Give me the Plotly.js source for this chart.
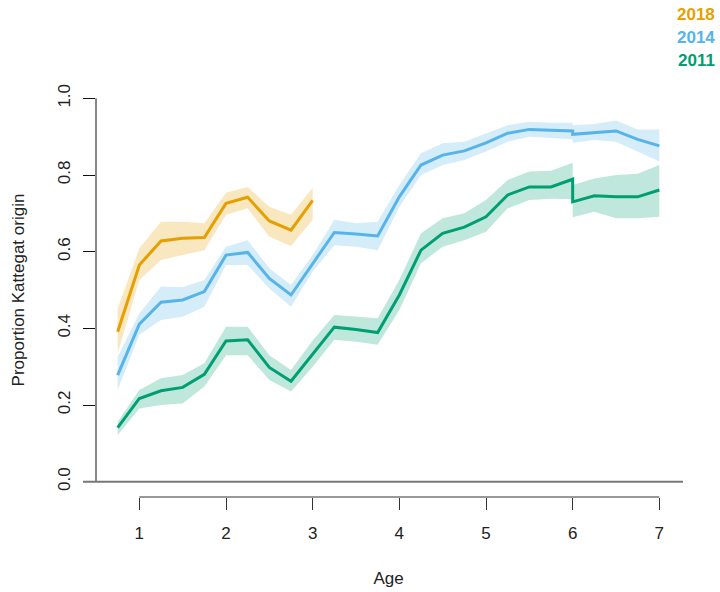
<!DOCTYPE html>
<html>
<head>
<meta charset="utf-8">
<script src="https://cdn.plot.ly/plotly-3.0.1.min.js"></script>
<style>html,body{margin:0;padding:0;background:#fff;}</style>
</head>
<body>
<div id="chart" style="width:720px;height:592px;"></div>
<script>
// ---- data ----
const ages2018 = [0.75,1,1.25,1.5,1.75,2,2.25,2.5,2.75,3];
const mean2018 = [0.391,0.565,0.628,0.635,0.637,0.726,0.742,0.680,0.656,0.734];
const lower2018 = [0.335,0.526,0.578,0.591,0.604,0.696,0.713,0.639,0.615,0.683];
const upper2018 = [0.452,0.609,0.678,0.678,0.674,0.754,0.769,0.717,0.696,0.767];

const agesFull = [0.75,1,1.25,1.5,1.75,2,2.25,2.5,2.75,3,3.25,3.5,3.75,4,4.25,4.5,4.75,5,5.25,5.5,5.75,6,6,6.25,6.5,6.75,7];

const mean2014 = [0.278,0.411,0.468,0.474,0.496,0.591,0.598,0.530,0.487,0.570,0.650,0.646,0.641,0.743,0.826,0.852,0.863,0.884,0.909,0.919,0.917,0.915,0.906,0.911,0.915,0.893,0.876];
const lower2014 = [0.239,0.383,0.422,0.430,0.456,0.565,0.565,0.504,0.456,0.548,0.617,0.613,0.604,0.717,0.800,0.826,0.839,0.861,0.887,0.900,0.896,0.893,0.884,0.891,0.887,0.861,0.835];
const upper2014 = [0.326,0.439,0.509,0.507,0.526,0.613,0.630,0.557,0.513,0.591,0.683,0.674,0.678,0.774,0.857,0.883,0.887,0.909,0.930,0.939,0.936,0.936,0.930,0.933,0.942,0.919,0.919];

const mean2011 = [0.141,0.217,0.237,0.246,0.280,0.367,0.370,0.298,0.262,0.333,0.403,0.397,0.389,0.487,0.604,0.648,0.664,0.691,0.748,0.769,0.769,0.789,0.730,0.746,0.743,0.743,0.761];
const lower2011 = [0.122,0.191,0.200,0.204,0.248,0.330,0.330,0.265,0.235,0.300,0.370,0.365,0.357,0.448,0.570,0.613,0.630,0.652,0.713,0.735,0.738,0.737,0.690,0.704,0.687,0.687,0.691];
const upper2011 = [0.156,0.239,0.270,0.278,0.309,0.404,0.404,0.330,0.291,0.368,0.435,0.430,0.426,0.526,0.648,0.687,0.700,0.735,0.787,0.809,0.811,0.832,0.774,0.791,0.800,0.803,0.826];

const seriesNames = ['2018','2014','2011'];
const yTicks = [0,0.2,0.4,0.6,0.8,1.0];
const yTickText = ['0.0','0.2','0.4','0.6','0.8','1.0'];
const xTicks = [1,2,3,4,5,6,7];

// ---- style ----
const colors = {'2018':'#E69F00','2014':'#56B4E9','2011':'#009E73'};
const bands = {'2018':'rgba(230,159,0,0.25)','2014':'rgba(86,180,233,0.25)','2011':'rgba(0,158,115,0.25)'};
const FONT = 'Liberation Sans, Arial, Helvetica, sans-serif';
const FS = 17;

const series = [
  {name:'2011', x:agesFull, m:mean2011, lo:lower2011, hi:upper2011},
  {name:'2014', x:agesFull, m:mean2014, lo:lower2014, hi:upper2014},
  {name:'2018', x:ages2018, m:mean2018, lo:lower2018, hi:upper2018}
];

const traces = [];
series.forEach(s => {
  traces.push({
    x: s.x.concat(s.x.slice().reverse()),
    y: s.hi.concat(s.lo.slice().reverse()),
    type:'scatter', mode:'lines', fill:'toself',
    fillcolor: bands[s.name], line:{width:0, color:'rgba(0,0,0,0)'},
    hoverinfo:'skip', showlegend:false
  });
});
series.forEach(s => {
  traces.push({
    x: s.x, y: s.m, type:'scatter', mode:'lines', name:s.name,
    line:{color:colors[s.name], width:3}, showlegend:false
  });
});

const W = 720, H = 592;
const M = {l:96, r:39, t:83, b:95};
const pw = W - M.l - M.r, ph = H - M.t - M.b;
const px2paperX = p => (p - M.l) / pw;
const px2paperY = p => (H - M.b - p) / ph;

const legendY = [15, 38, 61];
const annotations = seriesNames.map((n,i) => ({
  text:'<b>'+n+'</b>', xref:'paper', yref:'paper',
  x: px2paperX(717), y: px2paperY(legendY[i]),
  xanchor:'right', yanchor:'middle', showarrow:false,
  font:{family:FONT, size:FS, color:colors[n]}
}));

const layout = {
  width:W, height:H, margin:M,
  paper_bgcolor:'#fff', plot_bgcolor:'#fff',
  showlegend:false,
  font:{family:FONT, size:FS, color:'#222'},
  xaxis:{
    range:[0.5,7.25], tickvals:xTicks, ticktext:xTicks.map(String),
    ticks:'outside', ticklen:12, tickwidth:1, tickcolor:'#333',
    ticklabelstandoff:9,
    showgrid:false, zeroline:false, showline:false,
    tickfont:{family:FONT, size:FS, color:'#222'},
    title:{text:'Age', font:{family:FONT, size:FS, color:'#222'}, standoff:29}
  },
  yaxis:{
    range:[-0.04,1.04], tickvals:yTicks, ticktext:yTickText, tickangle:-90,
    ticks:'outside', ticklen:12, tickwidth:1, tickcolor:'#111',
    ticklabelstandoff:6,
    showgrid:false, zeroline:false, showline:false,
    tickfont:{family:FONT, size:FS, color:'#222'},
    title:{text:'Proportion Kattegat origin', font:{family:FONT, size:FS, color:'#222'}, standoff:26}
  },
  shapes:[
    {type:'line', xref:'paper', yref:'y', x0:0, x1:0, y0:0, y1:1, line:{color:'#111', width:1}},
    {type:'line', xref:'x', yref:'paper', x0:1, x1:7, y0:0, y1:0, line:{color:'#333', width:1}},
    {type:'line', xref:'paper', yref:'y', x0:px2paperX(83), x1:px2paperX(683), y0:0, y1:0, line:{color:'#777', width:2}}
  ],
  annotations: annotations
};

Plotly.newPlot('chart', traces, layout, {staticPlot:true, displayModeBar:false});
</script>
</body>
</html>
